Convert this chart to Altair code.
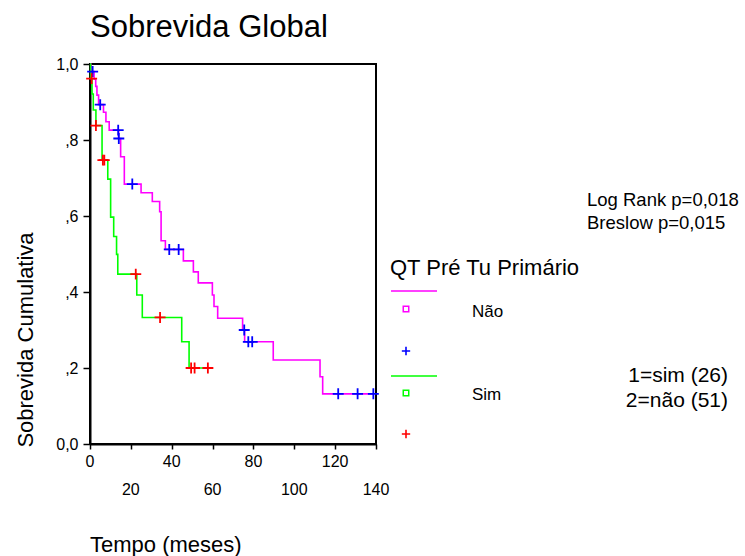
import altair as alt
import pandas as pd

# Kaplan-Meier estimates, "QT Pré Tu Primário" = Não (n = 51)
nao_tempo = [0, 0.4, 2.0, 2.8, 3.4, 4.2, 6.6, 7.8, 9.4, 14.0, 15.0, 16.8, 25.0, 30.5,
             34.1, 34.8, 36.9, 45.7, 50.6, 53.0, 59.9, 60.7, 62.5, 74.7, 75.7, 89.7,
             112.6, 113.9, 138.7]
nao_sobrev = [1.0, 0.980, 0.960, 0.941, 0.918, 0.893, 0.873, 0.848, 0.826, 0.804, 0.756,
              0.684, 0.661, 0.638, 0.611, 0.535, 0.512, 0.482, 0.453, 0.424, 0.392, 0.362,
              0.331, 0.300, 0.269, 0.221, 0.177, 0.132, 0.132]
nao_cens_tempo = [1.3, 5.0, 13.8, 14.1, 20.7, 38.8, 43.4, 75.5, 77.5, 79.4, 121.5, 131.0, 138.7]
nao_cens_sobrev = [0.980, 0.893, 0.826, 0.804, 0.684, 0.512, 0.512, 0.300, 0.269, 0.269,
                   0.132, 0.132, 0.132]

# Kaplan-Meier estimates, "QT Pré Tu Primário" = Sim (n = 26)
sim_tempo = [0, 0.3, 1.0, 1.6, 2.9, 5.9, 8.7, 10.1, 11.6, 13.0, 13.6, 22.9, 25.6, 44.9,
             48.5, 57.7]
sim_sobrev = [1.0, 0.9615, 0.921, 0.879, 0.838, 0.747, 0.697, 0.597, 0.546, 0.499, 0.447,
              0.392, 0.333, 0.269, 0.200, 0.200]
sim_cens_tempo = [0.8, 2.9, 6.3, 7.0, 22.4, 34.3, 49.5, 51.2, 57.7]
sim_cens_sobrev = [0.9615, 0.838, 0.747, 0.747, 0.447, 0.333, 0.200, 0.200, 0.200]

# Axis ticks
x_ticks = [0, 20, 40, 60, 80, 100, 120, 140]
x_labels_upper = [0, 40, 80, 120]
x_labels_lower = [20, 60, 100, 140]
y_ticks = [0.0, 0.2, 0.4, 0.6, 0.8, 1.0]
y_tick_labels = ["0,0", ",2", ",4", ",6", ",8", "1,0"]

W, H = 286, 380
FONT = "Liberation Sans"
MAGENTA, GREEN, BLUE, RED = "#FF00FF", "#00FF00", "#0000FF", "#FF0000"
PLUS = "M-1,0L1,0M0,-1L0,1"

curves = pd.concat([
    pd.DataFrame({"t": nao_tempo, "s": nao_sobrev, "g": "Não"}),
    pd.DataFrame({"t": sim_tempo, "s": sim_sobrev, "g": "Sim"}),
])
censored = pd.concat([
    pd.DataFrame({"t": nao_cens_tempo, "s": nao_cens_sobrev, "gc": "Não"}),
    pd.DataFrame({"t": sim_cens_tempo, "s": sim_cens_sobrev, "gc": "Sim"}),
])

y_expr = " : ".join(
    f"round(datum.value * 10) == {round(v * 10)} ? '{lab}'" for v, lab in zip(y_ticks, y_tick_labels)
) + " : ''"

x_enc = alt.X("t:Q", scale=alt.Scale(domain=[0, 140], nice=False, zero=True),
              axis=alt.Axis(values=x_ticks, labels=False, title=None, grid=False,
                            tickSize=5, tickWidth=1.5, tickColor="black",
                            domainColor="black", domainWidth=2))
y_enc = alt.Y("s:Q", scale=alt.Scale(domain=[0, 1], nice=False),
              axis=alt.Axis(values=y_ticks, labelExpr=y_expr, title=None, grid=False,
                            tickSize=7, tickWidth=1.5, tickColor="black",
                            domainColor="black", domainWidth=2,
                            labelFont=FONT, labelFontSize=16, labelColor="black",
                            labelPadding=5))

lines = alt.Chart(curves).mark_line(interpolate="step-after", strokeWidth=1.6).encode(
    x=x_enc, y=y_enc,
    color=alt.Color("g:N", scale=alt.Scale(domain=["Não", "Sim"], range=[MAGENTA, GREEN]),
                    legend=None),
)
marks = alt.Chart(censored).mark_point(shape=PLUS, size=120, strokeWidth=1.8, filled=False,
                                       opacity=1).encode(
    x=x_enc, y=y_enc,
    color=alt.Color("gc:N", scale=alt.Scale(domain=["Não", "Sim"], range=[BLUE, RED]),
                    legend=None),
)

# Staggered tick labels under the time axis
upper = alt.Chart(pd.DataFrame({"t": x_labels_upper, "lab": [str(v) for v in x_labels_upper]})).mark_text(
    font=FONT, fontSize=16, baseline="alphabetic", align="center", color="black"
).encode(x=x_enc, y=alt.value(403), text="lab:N")
lower = alt.Chart(pd.DataFrame({"t": x_labels_lower, "lab": [str(v) for v in x_labels_lower]})).mark_text(
    font=FONT, fontSize=16, baseline="alphabetic", align="center", color="black"
).encode(x=x_enc, y=alt.value(431), text="lab:N")

one = pd.DataFrame({"k": [0]})


def label(text, x, y, size, align="left", angle=0):
    kw = dict(font=FONT, fontSize=size, align=align, baseline="alphabetic", color="black")
    if angle:
        kw["angle"] = angle
    return alt.Chart(one).mark_text(**kw).encode(
        x=alt.value(x), y=alt.value(y), text=alt.value(text))


def hline(x1, x2, y, color):
    return alt.Chart(one).mark_rule(color=color, strokeWidth=1.6).encode(
        x=alt.value(x1), x2=alt.value(x2), y=alt.value(y))


def symbol(x, y, shape, color, size):
    return alt.Chart(one).mark_point(shape=shape, color=color, size=size, filled=False,
                                     strokeWidth=1.6 if shape == PLUS else 1.5, opacity=1).encode(
        x=alt.value(x), y=alt.value(y))


texts = [
    label("Sobrevida Global", 0, -27, 31),
    label("Sobrevida Cumulativa", -57, 276, 22, align="center", angle=270),
    label("Tempo (meses)", 0, 488, 22),
    label("QT Pré Tu Primário", 300, 211, 22),
    label("Não", 382, 253, 17),
    label("Sim", 382, 336, 17),
    label("Log Rank p=0,018", 497, 142, 18.5),
    label("Breslow p=0,015", 497, 165, 18.5),
    label("1=sim (26)", 638, 318, 21, align="right"),
    label("2=não (51)", 638, 343, 21, align="right"),
]
legend = [
    hline(301, 347, 227, MAGENTA),
    symbol(316, 245, "square", MAGENTA, 30),
    symbol(316, 287, PLUS, BLUE, 70),
    hline(301, 347, 312, GREEN),
    symbol(316, 329, "square", GREEN, 30),
    symbol(316, 370, PLUS, RED, 70),
]

chart = alt.layer(lines, marks, upper, lower, *texts, *legend).resolve_scale(
    color="independent"
).properties(
    width=W, height=H,
    autosize=alt.AutoSizeParams(type="none"),
    padding={"left": 90, "top": 64, "right": 745 - 90 - W, "bottom": 556 - 64 - H},
    background="white",
).configure_view(stroke="black", strokeWidth=2)

chart.save("out.html", embed_options={"renderer": "svg", "actions": False})
